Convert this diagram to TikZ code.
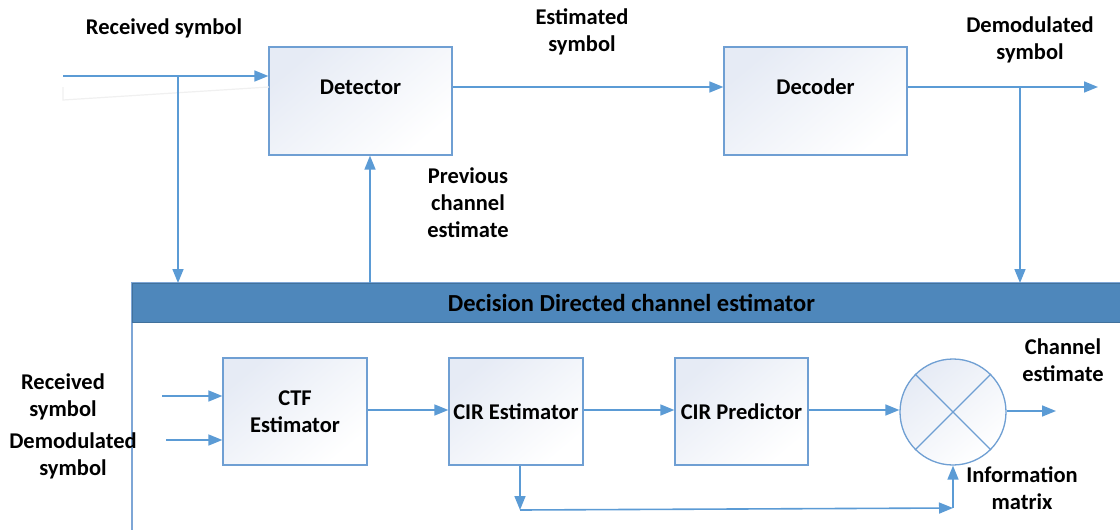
\documentclass[tikz,border=0pt]{standalone}
\usepackage{fontspec}
\setmainfont{Carlito}
\usetikzlibrary{arrows.meta,calc}
\definecolor{flow}{HTML}{5B9BD5}
\definecolor{edge}{HTML}{6F9FD3}
\definecolor{tint}{HTML}{E6EBF5}
\definecolor{band}{HTML}{4E87BB}
\definecolor{bandline}{HTML}{41719C}
\definecolor{frame}{HTML}{7EA6D6}
\begin{document}
\begin{tikzpicture}[x=1pt,y=-1pt,
  txt/.style={font=\fontsize{22.5}{27}\selectfont\bfseries, align=center, inner sep=0pt},
  blk/.style={txt, draw=edge, line width=1.3pt, top color=tint, bottom color=white, shading angle=40},
  arr/.style={draw=flow, line width=1.6pt, -{Triangle[length=14pt,width=11pt]}},
  wire/.style={draw=flow, line width=1.6pt}]
\clip (0,0) rectangle (1120,530);
\fill[white] (0,0) rectangle (1120,530);

% outer frame of the estimator block
\draw[frame, line width=1.3pt] (132,283) rectangle (1130,600);
\node[txt, font=\fontsize{24.5}{29}\selectfont\bfseries, draw=bandline, line width=1pt, fill=band,
  minimum width=998, minimum height=39, anchor=north west]
  (bar) at (132,283) {Decision Directed channel estimator};

% upper chain
\node[blk, minimum width=183, minimum height=108] (det) at (360.5,101) {};
\node[txt] (dett) at (360.5,87) {Detector};
\node[blk, minimum width=183, minimum height=108] (dec) at (815.5,101) {};
\node[txt] (dect) at (815.5,87) {Decoder};

% faint stray stroke near the input
\draw[gray!12, line width=1.2pt] (63,87) -- (63,100) -- (269,87);

\coordinate (in0) at (63,76);
\coordinate (tap) at (178,76);
\coordinate (mid) at (0,87);
\coordinate (out) at (1098,87);
\coordinate (tap2) at (1020,87);
\coordinate (fb) at (370,283);

\draw[arr] (in0) -- (det.west |- in0);
\draw[arr] (tap) -- (tap |- bar.north);
\draw[arr] (det.east |- mid) -- (dec.west |- mid);
\draw[arr] (dec.east |- mid) -- (out);
\draw[arr] (tap2) -- (tap2 |- bar.north);
\draw[arr] (fb) -- (fb |- det.south);

\node[txt] (lrx) at (164,28) {Received symbol};
\node[txt] (lest) at (582,32) {Estimated\\symbol};
\node[txt] (ldem) at (1030,40) {Demodulated\\symbol};
\node[txt] (lprev) at (468,203) {Previous\\channel\\estimate};

% lower chain
\node[blk, minimum width=144, minimum height=107] (ctf) at (295,411.5) {CTF\\Estimator};
\node[blk, minimum width=134, minimum height=107] (cire) at (516,411.5) {CIR Estimator};
\node[blk, minimum width=133, minimum height=107] (cirp) at (741.5,411.5) {CIR Predictor};
\node[circle, draw=edge, line width=1.3pt, top color=tint, bottom color=white, shading angle=40,
  minimum size=106, inner sep=0pt] (mix) at (953,412) {};
\draw[edge, line width=1.3pt] (mix.north west) -- (mix.south east) (mix.north east) -- (mix.south west);

\coordinate (r1) at (162,396);
\coordinate (r2) at (166,440);
\coordinate (y1) at (0,410);
\coordinate (ce) at (1056,411);
\coordinate (q) at (520,510);
\coordinate (q2) at (953,508);

\draw[arr] (r1) -- (ctf.west |- r1);
\draw[arr] (r2) -- (ctf.west |- r2);
\draw[arr] (ctf.east |- y1) -- (cire.west |- y1);
\draw[arr] (cire.east |- y1) -- (cirp.west |- y1);
\draw[arr] (cirp.east |- y1) -- (mix.west |- y1);
\draw[arr] (mix.east |- ce) -- (ce);
\draw[arr] (cire.south -| q) -- (q);
\draw[arr] (q) -- (q2);
\draw[arr] (q2) -- (mix.south);

\node[txt] (lrx2) at (63,397) {Received\\symbol};
\node[txt] (ldem2) at (73,456) {Demodulated\\symbol};
\node[txt] (lch) at (1063,360) {Channel\\estimate};
\node[txt] (linf) at (1022,488) {Information\\matrix};
\end{tikzpicture}
\end{document}
